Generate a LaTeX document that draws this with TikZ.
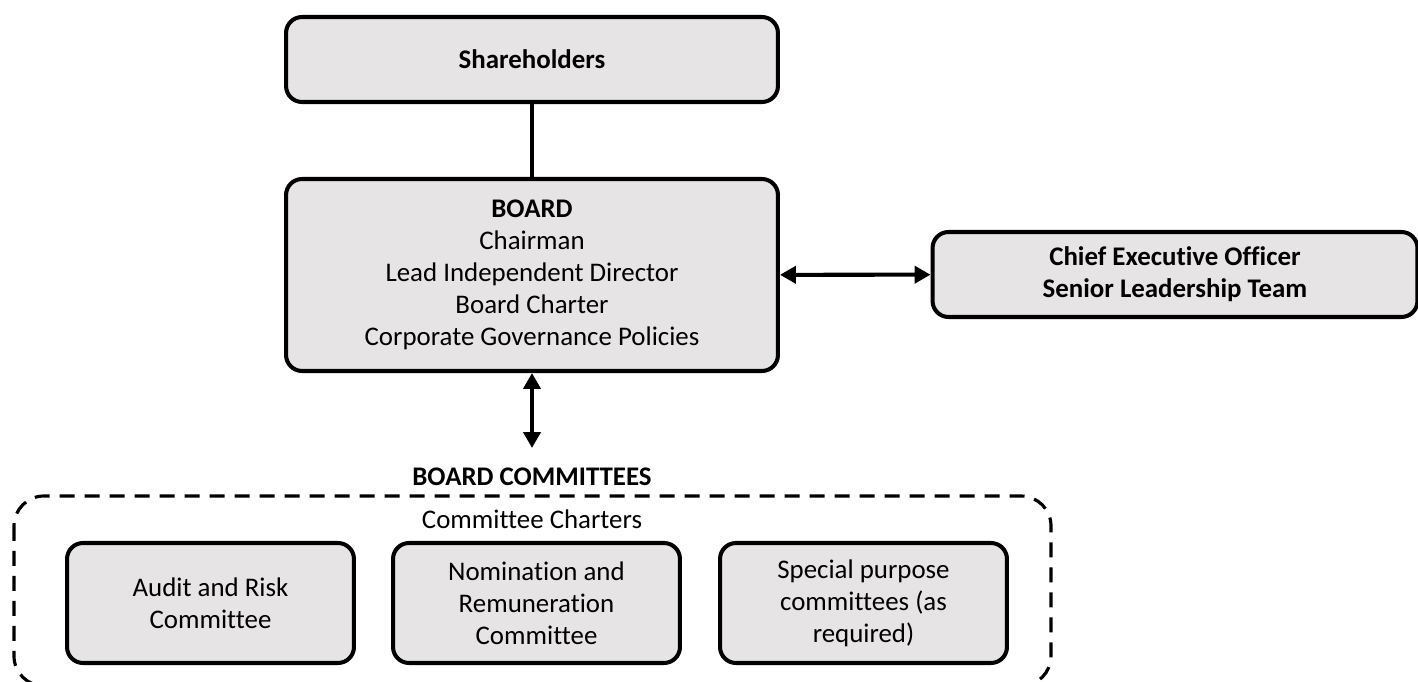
\documentclass[tikz,border=0pt]{standalone}
\usepackage{fontspec}
\setmainfont{Carlito}[Ligatures=NoCommon]
\usetikzlibrary{arrows.meta}
\definecolor{clbox}{HTML}{E6E4E5}
\begin{document}
\begin{tikzpicture}[x=0.02cm, y=-0.02cm, font=\fontsize{15.3}{18.3}\selectfont]
        \tikzstyle{orgbox} = [line width=2.3pt, rounded corners=0.32cm, draw, fill=clbox, align=center, inner sep=0pt]
        \tikzstyle{link} = [line width=2.3pt, {Triangle[length=0.32cm,width=0.34cm]}-{Triangle[length=0.32cm,width=0.34cm]}]
    \useasboundingbox (0,0) rectangle (1418,682);
    % committee frame
    \draw[line width=1.8pt, dash pattern=on 0.3cm off 0.2cm, rounded corners=0.6cm] (14,496) rectangle (1051,686);
    \node (title) at (532,477) {\textbf{BOARD COMMITTEES}};
    \node (charters) at (532,519) {Committee Charters};
    % boxes
    \node[orgbox, minimum width=9.84cm, minimum height=1.7cm] (share) at (532,59.5) {\textbf{Shareholders}};
    \node[orgbox, minimum width=9.84cm, minimum height=3.84cm] (board) at (532,275)
        {\textbf{BOARD}\\Chairman\\Lead Independent Director\\Board Charter\\Corporate Governance Policies};
    \node[orgbox, minimum width=9.7cm, minimum height=1.7cm] (ceo) at (1175,274.5)
        {\textbf{Chief Executive Officer}\\\textbf{Senior Leadership Team}};
    \node[orgbox, minimum width=5.74cm, minimum height=2.4cm] (audit) at (210.5,603) {Audit and Risk\\Committee};
    \node[orgbox, minimum width=5.74cm, minimum height=2.4cm] (nomin) at (536.5,603) {Nomination and\\Remuneration\\Committee};
    \node[orgbox, minimum width=5.74cm, minimum height=2.4cm] (special) at (863.5,603) {Special purpose\\committees (as\\required)};
    \coordinate (cttop) at (532,448);
    % connectors
    \draw[line width=2.3pt] (share) -- (board);
    \draw[link] (board) -- (ceo);
    \draw[link] (board.south) -- (cttop);
\end{tikzpicture}
\end{document}
